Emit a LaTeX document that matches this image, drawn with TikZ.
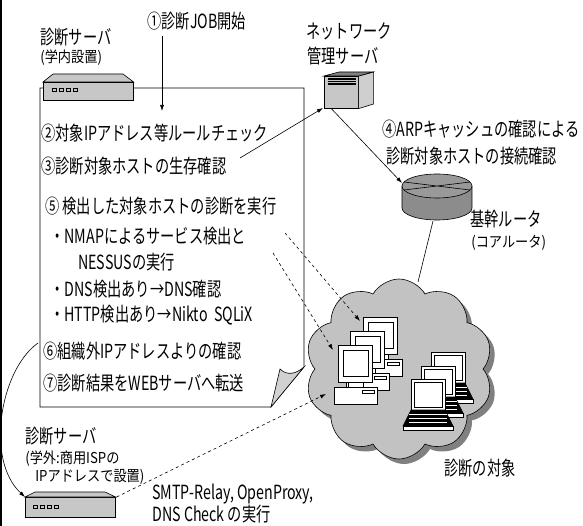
\documentclass[tikz,border=0pt]{standalone}
\usepackage{fontspec}
\setmainfont{Noto Sans CJK JP}[FakeStretch=0.73]
\newfontfamily\subfont{Noto Sans CJK JP}[FakeStretch=0.88]
\usetikzlibrary{arrows.meta,shapes.symbols}

\definecolor{srvgray}{gray}{0.78}
\definecolor{foldgray}{gray}{0.82}
\definecolor{cloudgray}{gray}{0.76}
\definecolor{shadowgray}{gray}{0.5}
\definecolor{routerside}{gray}{0.55}
\definecolor{routertop}{gray}{0.6}

\tikzset{
  lbl/.style={anchor=west, inner sep=0pt, font=\fontsize{19.5}{21}\selectfont},
  sub/.style={anchor=west, inner sep=0pt, font=\subfont\fontsize{15}{17}\selectfont},
  arr/.style={-{Latex[length=6pt,width=4pt]}},
  darr/.style={arr, dashed},
  puffy/.style={cloud, cloud puffs=10, cloud puff arc=120, cloud ignores aspect,
    minimum width=188, minimum height=180, inner sep=0pt},
}

% desktop pc, #1,#2 = top left of the monitor
\newcommand\desktop[2]{%
  \draw[fill=white] (#1,#2) rectangle ++(34,37);
  \draw[fill=white, line width=1pt] ({#1+5},{#2+5}) rectangle ++(25,26);
  \draw[fill=white] ({#1+10},{#2+37}) rectangle ++(15,5);
  \draw[fill=white] ({#1-4},{#2+42}) rectangle ++(43,17);
  \draw ({#1+24},{#2+45}) rectangle ++(12,3);
}
% laptop, #1,#2 = top left of the screen
\newcommand\laptop[2]{%
  \draw[fill=white] (#1,#2) rectangle ++(34,31);
  \draw[fill=white, line width=1pt] ({#1+3},{#2+3}) rectangle ++(28,25);
  \draw[fill=black] (#1,{#2+31}) -- ++(34,0) -- ++(8,16) -- ++(-50,0) -- cycle;
  \foreach \k in {35,39,43}
    \draw[white, line width=.6pt] ({#1-2},{#2+\k}) -- ++(38,0);
  \draw[fill=white] ({#1-8},{#2+47}) rectangle ++(50,4);
}

\begin{document}
\begin{tikzpicture}[x=1pt,y=-1pt,line width=0.6pt]
\useasboundingbox (0,0) rectangle (583,526);
\fill (0,0) rectangle (1.5,526);

% callout with the folded corner
\draw[fill=white] (40,88) -- (304,88) -- (304,367) -- (271,407) -- (40,407) -- cycle;
\draw[fill=foldgray] (271,407) -- (280,369) .. controls (287,376) and (296,374) .. (304,367) -- cycle;

% server inside the campus
\node[lbl] (srvin-t) at (40,37) {診断サーバ};
\node[sub] (srvin-s) at (40,58) {(学内設置)};
\node[draw, fill=srvgray, anchor=north west, minimum width=90, minimum height=18, inner sep=0pt] (srvin) at (43,82) {};
\draw[fill=srvgray] (srvin.north west) -- ++(10,-8) -- ++(70,0) -- (srvin.north east) -- cycle;
\foreach \i in {0,...,3}
  \draw ({52+\i*7},88) rectangle ++(4,3);

% job start
\node[lbl] (job) at (147,21) {①診断JOB開始};
\coordinate (jobtip) at (162,111);
\draw[arr] (jobtip |- job.south) ++(0,6) -- (jobtip);

% steps
\node[lbl] (chk2) at (41,133) {②対象IPアドレス等ルールチェック};
\node[lbl] (chk3) at (41,166) {③診断対象ホストの生存確認};
\node[lbl] (diag5) at (45,206) {⑤ 検出した対象ホストの診断を実行};
\node[lbl] (nmap) at (50,236) {・NMAPによるサービス検出と};
\node[lbl] (nessus) at (78,262) {NESSUSの実行};
\node[lbl] (dns) at (50,289) {・DNS検出あり→DNS確認};
\node[lbl] (http) at (50,315) {・HTTP検出あり→Nikto\ \ SQLiX};
\node[lbl] (chk6) at (43,351) {⑥組織外IPアドレスよりの確認};
\node[lbl] (send7) at (43,383) {⑦診断結果をWEBサーバへ転送};

% network management server
\node[lbl] (netsrv-t) at (306,31) {ネットワーク};
\node[lbl] (netsrv-b) at (307,56) {管理サーバ};
\node[draw, fill=srvgray, anchor=north west, minimum width=34, minimum height=32, inner sep=0pt] (netsrv) at (324,76) {};
\draw[fill=srvgray!85] (netsrv.north east) -- ++(15,-4) -- ++(0,32) -- (netsrv.south east) -- cycle;
\draw[fill=gray] (netsrv.north west) -- ++(15,-4) -- ++(34,0) -- (netsrv.north east) -- cycle;
\foreach \k in {79,81.5,84}
  \draw[line width=1.2pt] (328,\k) -- (356,\k);

% core router
\node[lbl] (arp4a) at (382,129) {④ARPキャッシュの確認による};
\node[lbl] (arp4b) at (386,156) {診断対象ホストの接続確認};
\coordinate (router) at (437,186);
\fill[routerside] (402,186) rectangle (472,208);
\fill[routerside] (437,208) ellipse (35 and 12);
\draw (402,186) -- (402,208) arc[start angle=180, end angle=0, x radius=35, y radius=12] -- (472,186);
\draw[fill=routertop] (router) ellipse (35 and 12);
\draw (404,190) -- (470,182) (404,182) -- (470,190);
\node[lbl] (core) at (470,219) {基幹ルータ};
\node[sub] (core-s) at (471,243) {(コアルータ)};

% hosts under test
\node[puffy, fill=shadowgray] (cloudsh) at (404,374) {};
\node[puffy, draw, fill=cloudgray] (cloud) at (399,369) {};
\node[lbl] (target) at (444,468) {診断の対象};
\desktop{363}{317}
\desktop{350}{331}
\desktop{338}{345}
\laptop{431}{352}
\laptop{421}{366}
\laptop{411}{379}

% server outside the campus
\node[lbl] (srvout-t) at (25,436) {診断サーバ};
\node[sub] (srvout-s1) at (25,459) {(学外:商用ISPの};
\node[sub] (srvout-s2) at (35,477) {IPアドレスで設置)};
\node[draw, fill=srvgray, anchor=north west, minimum width=90, minimum height=20, inner sep=0pt] (srvout) at (25,497) {};
\draw[fill=srvgray] (srvout.north west) -- ++(10,-5) -- ++(70,0) -- (srvout.north east) -- cycle;
\foreach \i in {0,...,3}
  \draw ({33+\i*7},505) rectangle ++(4,3);
\node[lbl] (smtp) at (152,494) {SMTP-Relay, OpenProxy,};
\node[lbl] (dnschk) at (152,514) {DNS Check の実行};

% connectors
\coordinate (chk3-out) at (240,158);
\coordinate (netsrv-in) at (323,108);
\coordinate (router-in) at (402,183);
\coordinate (cloud-top) at (418,282);
\draw[arr] (chk3-out) -- (netsrv-in);
\draw[arr] ([xshift=-10]netsrv.south) -- (router-in);
\draw (433,221) -- (cloud-top);
\coordinate (pc1) at (360,321);
\coordinate (pc2) at (333,350);
\coordinate (pc3) at (326,394);
\draw[darr] (285,233) -- (pc1);
\draw[darr] (273,253) -- (pc2);
\draw[darr] (srvout.north east) ++(1,0) -- (pc3);
\coordinate (c6) at (38,343);
\draw[arr] (c6) .. controls (0,370) and (-15,460) .. (srvout.north west);
\end{tikzpicture}
\end{document}
